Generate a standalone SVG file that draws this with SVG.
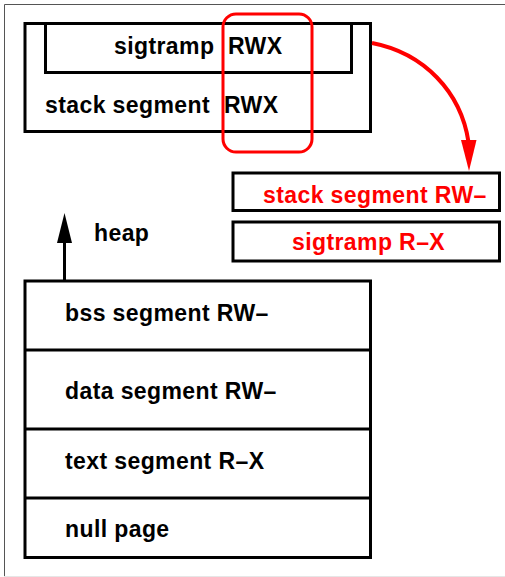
<svg xmlns="http://www.w3.org/2000/svg" width="505" height="577" viewBox="0 0 505 577">
  <style>
    .box { fill: none; stroke: #000; stroke-width: 3; }
    .lbl { font-family: "Liberation Sans", Arial, Helvetica, sans-serif; font-weight: bold; font-size: 23px; letter-spacing: 0.4px; fill: #000; }
    .red { fill: #ff0000; }
    .redline { fill: none; stroke: #ff0000; }
  </style>

  <!-- page frame -->
  <rect x="0" y="0" width="505" height="577" fill="#fff"/>
  <path d="M4.5,577 V4.5 H505" fill="none" stroke="#555" stroke-width="1"/>
  <line x1="4" y1="576.5" x2="505" y2="576.5" stroke="#e6e6e6" stroke-width="1"/>

  <!-- original stack segment containing sigtramp -->
  <g id="stack-rwx">
    <rect class="box" x="25" y="23.5" width="345.5" height="108"/>
    <text class="lbl" x="45" y="113">stack segment</text>
    <text class="lbl" x="224" y="113">RWX</text>
  </g>
  <g id="sigtramp-rwx">
    <rect class="box" x="45.5" y="23.5" width="306" height="49"/>
    <text class="lbl" x="114" y="54">sigtramp</text>
    <text class="lbl" x="228" y="54">RWX</text>
  </g>

  <!-- highlight of the executable permission -->
  <g id="rwx-highlight">
    <rect class="redline" x="223" y="14" width="89" height="138" rx="13" ry="13" stroke-width="3"/>
  </g>

  <!-- split segments after the change -->
  <g id="stack-rw">
    <rect class="box" x="233" y="173" width="266.5" height="37.5"/>
    <text class="lbl red" x="263" y="203">stack segment RW–</text>
  </g>
  <g id="sigtramp-rx">
    <rect class="box" x="233" y="222" width="266.5" height="39"/>
    <text class="lbl red" x="292" y="250">sigtramp R–X</text>
  </g>

  <!-- heap label -->
  <g id="heap">
    <text class="lbl" x="94" y="241">heap</text>
  </g>

  <!-- lower address space -->
  <g id="lower-segments">
    <rect class="box" x="25" y="281" width="345.5" height="276.5"/>
  </g>
  <g id="bss">
    <line class="box" x1="25" y1="350" x2="370.5" y2="350"/>
    <text class="lbl" x="65" y="321">bss segment RW–</text>
  </g>
  <g id="data">
    <line class="box" x1="25" y1="429" x2="370.5" y2="429"/>
    <text class="lbl" x="65" y="399">data segment RW–</text>
  </g>
  <g id="text-seg">
    <line class="box" x1="25" y1="498" x2="370.5" y2="498"/>
    <text class="lbl" x="65" y="469">text segment R–X</text>
  </g>
  <g id="null-page">
    <text class="lbl" x="65" y="537">null page</text>
  </g>

  <!-- connectors -->
  <g id="connectors">
    <line x1="64.5" y1="280" x2="64.5" y2="240" stroke="#000" stroke-width="3"/>
    <path d="M57,243 L64.5,213 L72,243 Z" fill="#000"/>
    <path class="redline" d="M372,43 C424,53 461,92 468.5,142" stroke-width="4"/>
    <path d="M461,140 L469,171 L476.5,140 Z" fill="#ff0000"/>
  </g>
</svg>
